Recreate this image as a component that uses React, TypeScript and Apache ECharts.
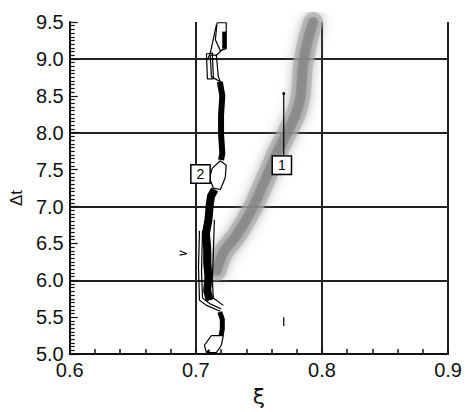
import React, { useEffect, useRef } from "react";
import * as echarts from "echarts";

// Axis ranges
const xRange = [0.6, 0.9];
const yRange = [5.0, 9.5];

// Gray (shaded) band, centre line: [xi, dt]
const grayBand: number[][] = [
  [0.7165, 6.13], [0.7218, 6.38], [0.732, 6.60], [0.7453, 6.99], [0.7555, 7.38],
  [0.7634, 7.69], [0.779, 8.24], [0.783, 8.50], [0.785, 8.92], [0.789, 9.27], [0.793, 9.5],
];

// Filled (thick) black contour cores
const coreTop: number[][] = [[0.7225, 9.37], [0.7225, 9.14]];
const coreUpper: number[][] = [
  [0.719, 8.69], [0.721, 8.5], [0.720, 8.24], [0.720, 7.98], [0.721, 7.72], [0.720, 7.63],
];
const coreMid: number[][] = [
  [0.715, 7.23], [0.712, 7.14], [0.711, 7.02], [0.710, 6.82], [0.708, 6.63],
  [0.709, 6.44], [0.709, 6.24], [0.710, 6.05], [0.709, 5.86], [0.711, 5.73],
];
const coreLow: number[][] = [[0.719, 5.57], [0.721, 5.47], [0.721, 5.34], [0.720, 5.25]];

// Thin contour lines
const ringTop: number[][] = [
  [0.7168, 9.49], [0.7241, 9.49], [0.7241, 9.14], [0.7194, 9.11], [0.7155, 9.26], [0.7168, 9.49],
];
const ringTopTail: number[][] = [[0.7163, 9.46], [0.7115, 9.08], [0.7092, 8.99]];
const ringNineA: number[][] = [
  [0.7084, 9.07], [0.7131, 9.08], [0.7139, 8.73], [0.7092, 8.73], [0.7084, 9.07],
];
const ringNineB: number[][] = [
  [0.7115, 9.05], [0.7163, 9.05], [0.7178, 8.76], [0.7194, 8.69], [0.7123, 8.76], [0.7115, 9.05],
];
const ringNineC: number[][] = [[0.7163, 9.05], [0.7218, 9.14]];
const ringMidUpper: number[][] = [
  [0.7194, 7.62], [0.7241, 7.56], [0.7233, 7.39], [0.7194, 7.23], [0.7139, 7.25],
  [0.7108, 7.39], [0.7131, 7.52], [0.7194, 7.62],
];
const ringLeftA: number[][] = [
  [0.7029, 6.67], [0.7021, 6.18], [0.7029, 5.73], [0.7084, 5.66], [0.7194, 5.58],
];
const ringLeftB: number[][] = [
  [0.7053, 6.67], [0.7045, 6.12], [0.7053, 5.76], [0.7115, 5.68], [0.7202, 5.61],
];
const ringRight: number[][] = [
  [0.7147, 6.82], [0.7139, 6.37], [0.7131, 5.99], [0.7139, 5.76], [0.7218, 5.66],
];
const ringBottom: number[][] = [
  [0.7123, 5.25], [0.7218, 5.25], [0.7202, 5.12], [0.7163, 5.02], [0.7084, 5.02],
  [0.7068, 5.12], [0.7123, 5.25],
];
const speckA: number[][] = [[0.6872, 6.40], [0.6927, 6.36], [0.6872, 6.34]];
const speckB: number[][] = [[0.7697, 5.50], [0.7697, 5.38]];
const speckC: number[][] = [[0.7092, 5.05], [0.7108, 5.03]];

// Annotation "1" leader line and label boxes
const leader1: number[][] = [[0.7697, 8.52], [0.7697, 7.66]];
const leaderDot: number[][] = [[0.7697, 8.53]];
const labelNames = ["1", "2"];
const labelPos: number[][] = [[0.7682, 7.56], [0.7037, 7.44]];

const thinRings = [
  ringTop, ringTopTail, ringNineA, ringNineB, ringNineC, ringMidUpper,
  ringLeftA, ringLeftB, ringRight, ringBottom, speckA, speckB, leader1,
];
const cores = [
  { d: coreTop, w: 4 },
  { d: coreUpper, w: 6 },
  { d: coreMid, w: 8 },
  { d: coreLow, w: 5 },
  { d: speckC, w: 3 },
];

const grayLayers = [
  { w: 20, c: "rgba(170,170,170,0.65)", blur: 12 },
  { w: 10, c: "rgba(125,125,125,0.6)", blur: 6 },
];

export default function App() {
  const ref = useRef<HTMLDivElement>(null);
  useEffect(() => {
    if (!ref.current) return;
    const chart = echarts.init(ref.current, null, { renderer: "svg" });
    const series: any[] = [];
    grayLayers.forEach((g) => {
      series.push({
        type: "line",
        data: grayBand,
        smooth: 0.3,
        symbol: "none",
        silent: true,
        lineStyle: {
          color: g.c,
          width: g.w,
          cap: "round",
          join: "round",
          shadowBlur: g.blur,
          shadowColor: "rgba(140,140,140,0.9)",
        },
        z: 1,
      });
    });
    cores.forEach((c) => {
      series.push({
        type: "line",
        data: c.d,
        symbol: "none",
        silent: true,
        lineStyle: { color: "#000", width: c.w, cap: "butt", join: "round" },
        z: 3,
      });
    });
    thinRings.forEach((d) => {
      series.push({
        type: "line",
        data: d,
        symbol: "none",
        silent: true,
        lineStyle: { color: "#000", width: 1.2, join: "round" },
        z: 3,
      });
    });
    series.push({
      type: "scatter",
      data: leaderDot,
      symbolSize: 3,
      itemStyle: { color: "#000", opacity: 1 },
      z: 4,
    });
    series.push({
      type: "scatter",
      data: labelPos.map((p, i) => ({ name: labelNames[i], value: p })),
      symbolSize: 0,
      itemStyle: { opacity: 1 },
      z: 5,
      label: {
        show: true,
        position: "inside",
        formatter: (p: any) => p.name,
        color: "#000",
        fontSize: 14,
        fontFamily: "Liberation Sans, Arial, sans-serif",
        backgroundColor: "#ffffff",
        borderColor: "#000",
        borderWidth: 1.5,
        padding: [2, 5, 1, 5],
      },
    });

    chart.setOption({
      animation: false,
      backgroundColor: "#fff",
      grid: { left: 68, right: 16, top: 22, bottom: 41, containLabel: false },
      xAxis: {
        type: "value",
        min: xRange[0],
        max: xRange[1],
        interval: 0.1,
        name: "ξ",
        nameLocation: "middle",
        nameGap: 24,
        nameTextStyle: { fontSize: 22, color: "#111", fontFamily: "DejaVu Sans, sans-serif" },
        axisLine: { show: true, lineStyle: { color: "#111", width: 2 } },
        axisTick: { show: true, inside: true, length: 5, lineStyle: { color: "#111", width: 1.5 } },
        minorTick: { show: true, splitNumber: 5, length: 5, lineStyle: { color: "#111", width: 1.5 } },
        axisLabel: {
          formatter: (v: number) => v.toFixed(1),
          fontSize: 20,
          color: "#111",
          margin: 6,
          fontFamily: "Liberation Sans, Arial, sans-serif",
        },
        splitLine: { show: true, showMinLine: false, lineStyle: { color: "#222", width: 2 } },
      },
      yAxis: [
        {
          type: "value",
          min: yRange[0],
          max: yRange[1],
          interval: 0.5,
          name: "Δt",
          nameLocation: "middle",
          nameRotate: 90,
          nameGap: 42,
          nameTextStyle: {
            fontSize: 17,
            color: "#111",
            fontFamily: "Liberation Sans, Arial, sans-serif",
            padding: [0, 20, 0, 0],
          },
          axisLine: { show: true, lineStyle: { color: "#111", width: 2 } },
          axisTick: { show: true, inside: true, length: 8, lineStyle: { color: "#111", width: 1.2 } },
          minorTick: { show: true, splitNumber: 10, length: 5, lineStyle: { color: "#111", width: 1.2 } },
          axisLabel: {
            formatter: (v: number) => v.toFixed(1),
            fontSize: 20,
            color: "#111",
            margin: 6,
            fontFamily: "Liberation Sans, Arial, sans-serif",
          },
          splitLine: { show: false },
        },
        {
          type: "value",
          min: yRange[0],
          max: yRange[1],
          interval: 1,
          position: "left",
          axisLine: { show: false },
          axisTick: { show: false },
          axisLabel: { show: false },
          splitLine: {
            show: true,
            showMinLine: false,
            showMaxLine: false,
            lineStyle: { color: "#222", width: 2 },
          },
        },
      ],
      series,
    });
    return () => chart.dispose();
  }, []);
  return (
    <div
      ref={ref}
      style={{ position: "fixed", left: 0, top: 0, width: 465, height: 412, background: "#fff" }}
    />
  );
}
